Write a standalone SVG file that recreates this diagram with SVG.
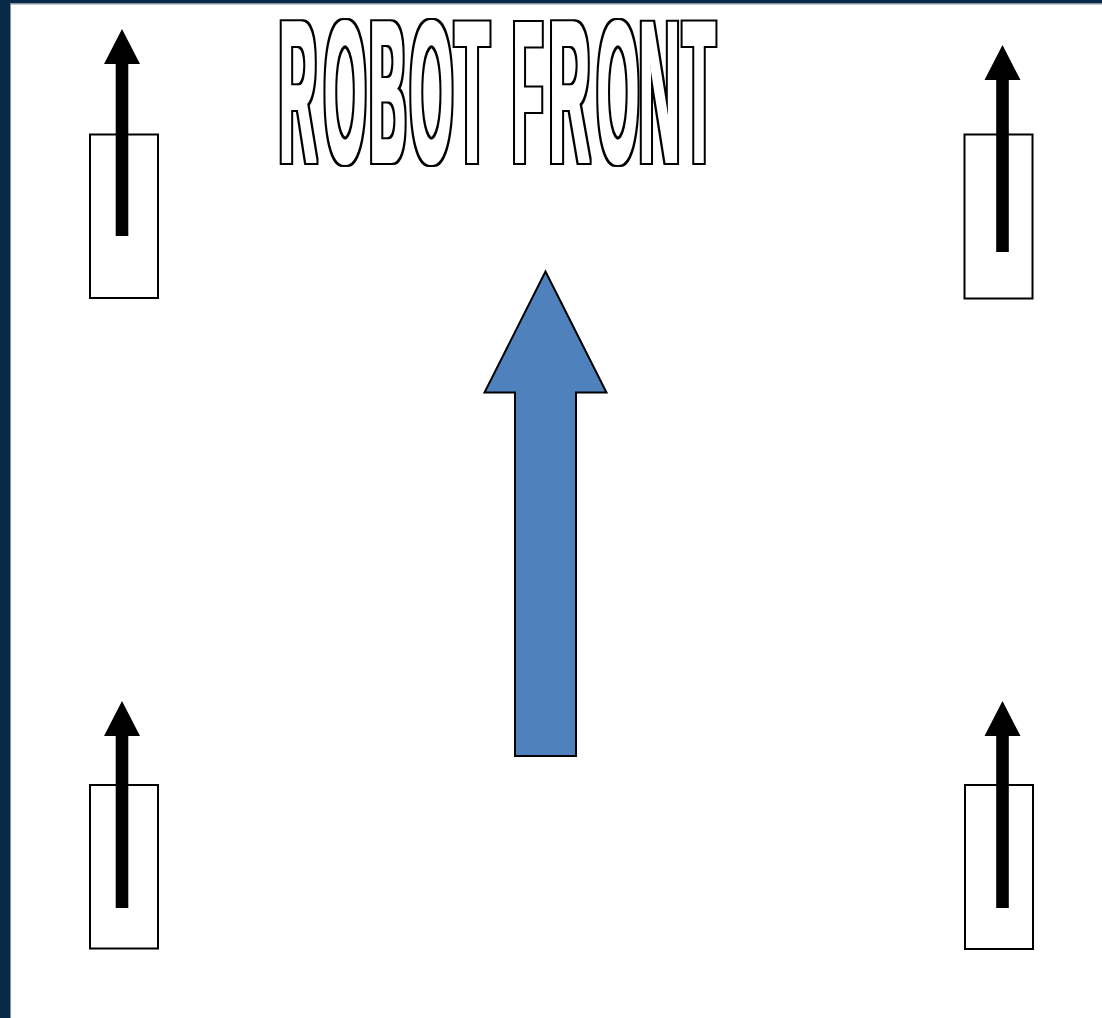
<svg xmlns="http://www.w3.org/2000/svg" width="1102" height="1018" viewBox="0 0 1102 1018">
  <style>
    .wheel { fill: #ffffff; stroke: #000000; stroke-width: 2; }
    .dir { fill: #000000; }
    .title text { font-family: "Liberation Sans", Arial, sans-serif; font-weight: bold; font-size: 203px; fill: #000000; text-anchor: middle; }
  </style>
  <defs>
    <path id="smallArrow" d="M0,0 L18,35 L6.3,35 L6.3,207 L-6.3,207 L-6.3,35 L-18,35 Z"/>
    <filter id="outlineText" filterUnits="userSpaceOnUse" x="250" y="0" width="500" height="195" color-interpolation-filters="sRGB">
      <feMorphology in="SourceAlpha" operator="dilate" radius="1.2" result="fat"/>
      <feMorphology in="SourceAlpha" operator="dilate" radius="2.7" result="outer"/>
      <feFlood flood-color="#000000" result="black"/>
      <feComposite in="black" in2="outer" operator="in" result="blackOuter"/>
      <feFlood flood-color="#ffffff" result="white"/>
      <feComposite in="white" in2="fat" operator="in" result="whiteFat"/>
      <feMerge>
        <feMergeNode in="blackOuter"/>
        <feMergeNode in="whiteFat"/>
      </feMerge>
    </filter>
  </defs>
  <rect x="0" y="0" width="1102" height="1018" fill="#ffffff"/>
  <g id="frame">
    <rect x="0" y="0" width="1102" height="3.5" fill="#062a47"/>
    <rect x="0" y="0" width="10" height="1018" fill="#062a47"/>
    <line x1="10.5" y1="3.5" x2="10.5" y2="1018" stroke="#8a8f96" stroke-width="1"/>
    <line x1="10" y1="4" x2="1102" y2="4" stroke="#8a8f96" stroke-width="1"/>
  </g>
  <g id="title" class="title">
    <g filter="url(#outlineText)"><text transform="translate(298,162.3) scale(0.255,1)">R</text></g>
    <g filter="url(#outlineText)"><text transform="translate(345,162.3) scale(0.264,1)">O</text></g>
    <g filter="url(#outlineText)"><text transform="translate(387.8,162.3) scale(0.247,1)">B</text></g>
    <g filter="url(#outlineText)"><text transform="translate(431.5,162.3) scale(0.272,1)">O</text></g>
    <g filter="url(#outlineText)"><text transform="translate(472,162.3) scale(0.275,1)">T</text></g>
    <g filter="url(#outlineText)"><text transform="translate(527.6,162.3) scale(0.241,1)">F</text></g>
    <g filter="url(#outlineText)"><text transform="translate(569.6,162.3) scale(0.277,1)">R</text></g>
    <g filter="url(#outlineText)"><text transform="translate(618,162.3) scale(0.265,1)">O</text></g>
    <g filter="url(#outlineText)"><text transform="translate(659.5,162.3) scale(0.279,1)">N</text></g>
    <g filter="url(#outlineText)"><text transform="translate(699,162.3) scale(0.258,1)">T</text></g>
  </g>
  <g id="wheel-front-left">
    <rect class="wheel" x="90" y="134.5" width="68" height="163.5"/>
    <use href="#smallArrow" class="dir" transform="translate(122,29)"/>
  </g>
  <g id="wheel-front-right">
    <rect class="wheel" x="964.5" y="134.5" width="68" height="164"/>
    <use href="#smallArrow" class="dir" transform="translate(1002.5,45)"/>
  </g>
  <g id="wheel-rear-left">
    <rect class="wheel" x="90" y="785" width="68" height="163.5"/>
    <use href="#smallArrow" class="dir" transform="translate(122,701)"/>
  </g>
  <g id="wheel-rear-right">
    <rect class="wheel" x="965" y="785" width="68" height="164"/>
    <use href="#smallArrow" class="dir" transform="translate(1002.5,701)"/>
  </g>
  <g id="robot-direction">
    <path d="M545.5,271.5 L606.5,392.5 L576,392.5 L576,756 L515,756 L515,392.5 L484.5,392.5 Z" fill="#4f81bd" stroke="#000000" stroke-width="2" stroke-linejoin="miter"/>
  </g>
</svg>
